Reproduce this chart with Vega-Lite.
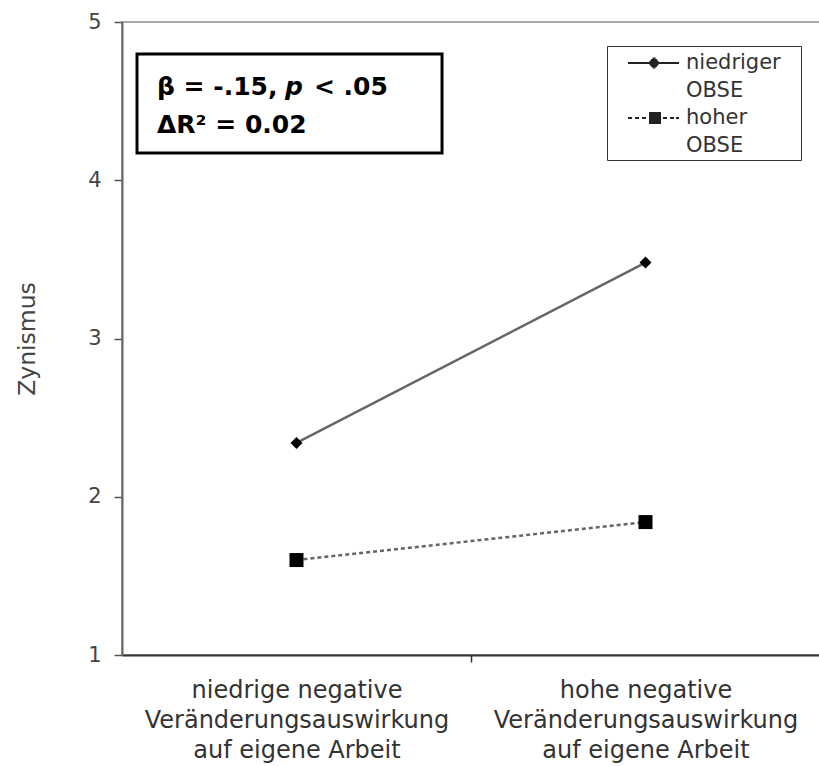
{
  "$schema": "https://vega.github.io/schema/vega-lite/v6.json",
  "width": 698,
  "height": 633,
  "autosize": "none",
  "padding": {"left": 122, "top": 22, "right": 0, "bottom": 111},
  "background": "white",
  "config": {
    "view": {"stroke": "#a8a8a8", "strokeWidth": 2},
    "font": "DejaVu Sans",
    "style": {"guide-label": {"lineHeight": 28}}
  },
  "datasets": {
    "linien": [
      {"x": 1, "y": 2.34, "gruppe": "niedriger OBSE"},
      {"x": 2, "y": 3.48, "gruppe": "niedriger OBSE"},
      {"x": 1, "y": 1.60, "gruppe": "hoher OBSE"},
      {"x": 2, "y": 1.84, "gruppe": "hoher OBSE"}
    ],
    "kasten": [
      {"x": 0.543, "x2": 1.417, "y": 4.798, "y2": 4.172}
    ],
    "texte": [
      {"x": 0.6003, "y": 4.589, "text": "β = -.15,", "stil": "normal"},
      {"x": 0.967, "y": 4.589, "text": "p", "stil": "kursiv"},
      {"x": 1.05, "y": 4.589, "text": "< .05", "stil": "normal"},
      {"x": 0.6003, "y": 4.349, "text": "ΔR² = 0.02", "stil": "normal"}
    ]
  },
  "layer": [
    {
      "data": {"name": "linien"},
      "transform": [{"filter": "datum.gruppe == 'niedriger OBSE'"}],
      "mark": {"type": "line", "color": "#666", "strokeWidth": 2.5},
      "encoding": {
        "x": {
          "field": "x", "type": "quantitative",
          "scale": {"domain": [0.5, 2.5], "nice": false, "zero": false},
          "axis": {
            "title": null,
            "values": [1, 1.5, 2],
            "labelExpr": "datum.value == 1 ? ['niedrige negative', 'Veränderungsauswirkung', 'auf eigene Arbeit'] : datum.value == 2 ? ['hohe negative', 'Veränderungsauswirkung', 'auf eigene Arbeit'] : ''",
            "grid": false,
            "tickSize": 7,
            "tickWidth": 1.5,
            "tickColor": {"condition": {"test": "datum.value == 1.5", "value": "#333"}, "value": "transparent"},
            "domainColor": "#333",
            "domainWidth": 2,
            "labelFont": "DejaVu Sans",
            "labelFontSize": 24,
            "labelColor": "#333",
            "labelLineHeight": 30,
            "labelBaseline": "top",
            "labelPadding": 16,
            "labelLimit": 500,
            "labelFlush": false,
            "labelOverlap": false
          }
        },
        "y": {
          "field": "y", "type": "quantitative",
          "scale": {"domain": [1, 5], "nice": false, "zero": false},
          "axis": {
            "title": "Zynismus",
            "values": [1, 2, 3, 4, 5],
            "format": "d",
            "grid": false,
            "tickSize": 8,
            "tickWidth": 1.5,
            "tickColor": "#555",
            "domainColor": "#666",
            "domainWidth": 2,
            "labelFont": "DejaVu Sans",
            "labelFontSize": 21,
            "labelColor": "#444",
            "labelPadding": 13,
            "labelLineHeight": 21,
            "titleFont": "DejaVu Sans",
            "titleFontSize": 23.5,
            "titleFontWeight": "normal",
            "titleColor": "#444",
            "titlePadding": 48
          }
        }
      }
    },
    {
      "data": {"name": "linien"},
      "transform": [{"filter": "datum.gruppe == 'hoher OBSE'"}],
      "mark": {"type": "line", "color": "#666", "strokeWidth": 2.5, "strokeDash": [4, 3]},
      "encoding": {
        "x": {"field": "x", "type": "quantitative"},
        "y": {"field": "y", "type": "quantitative"}
      }
    },
    {
      "data": {"name": "linien"},
      "mark": {"type": "point", "filled": false, "color": "#222", "strokeWidth": 2, "size": 0.0001, "opacity": 1},
      "encoding": {
        "x": {"field": "x", "type": "quantitative"},
        "y": {"field": "y", "type": "quantitative"},
        "shape": {
          "field": "gruppe", "type": "nominal",
          "scale": {
            "domain": ["niedriger OBSE", "hoher OBSE"],
            "range": [
              "M0.333,0H4.583M2,0H3M2.125,-0.125H2.875M2.125,0.125H2.875M2.25,-0.25H2.75M2.25,0.25H2.75M2.375,-0.375H2.625M2.375,0.375H2.625",
              "M0.333,0H0.667M0.917,0H1.25M1.5,0H1.833M3.25,0H3.583M3.833,0H4.167M4.333,0H4.583M2.083,-0.417H3.083M2.083,-0.25H3.083M2.083,-0.083H3.083M2.083,0.083H3.083M2.083,0.25H3.083M2.083,0.417H3.083"
            ]
          },
          "legend": {
            "title": null,
            "orient": "none",
            "legendX": 485,
            "legendY": 24,
            "padding": 4,
            "strokeColor": "#333",
            "fillColor": "white",
            "symbolSize": 576,
            "symbolStrokeWidth": 2,
            "labelFont": "DejaVu Sans",
            "labelFontSize": 21,
            "labelColor": "#333",
            "labelOffset": 49,
            "rowPadding": 4,
            "labelBaseline": "middle",
            "labelExpr": "[split(datum.label, ' ')[0] + '\u2800', split(datum.label, ' ')[1]]"
          }
        }
      }
    },
    {
      "data": {"name": "linien"},
      "transform": [{"filter": "datum.gruppe == 'niedriger OBSE'"}],
      "mark": {"type": "point", "shape": "diamond", "filled": true, "color": "black", "size": 144, "opacity": 1},
      "encoding": {
        "x": {"field": "x", "type": "quantitative"},
        "y": {"field": "y", "type": "quantitative"}
      }
    },
    {
      "data": {"name": "linien"},
      "transform": [{"filter": "datum.gruppe == 'hoher OBSE'"}],
      "mark": {"type": "point", "shape": "square", "filled": true, "color": "black", "size": 196, "opacity": 1},
      "encoding": {
        "x": {"field": "x", "type": "quantitative"},
        "y": {"field": "y", "type": "quantitative"}
      }
    },
    {
      "data": {"name": "kasten"},
      "mark": {"type": "rect", "fill": "white", "stroke": "black", "strokeWidth": 3},
      "encoding": {
        "x": {"field": "x", "type": "quantitative"},
        "x2": {"field": "x2"},
        "y": {"field": "y", "type": "quantitative"},
        "y2": {"field": "y2"}
      }
    },
    {
      "data": {"name": "texte"},
      "transform": [{"filter": "datum.stil == 'normal'"}],
      "mark": {"type": "text", "align": "left", "baseline": "middle", "font": "DejaVu Sans", "fontWeight": "bold", "fontSize": 25, "color": "black"},
      "encoding": {
        "x": {"field": "x", "type": "quantitative"},
        "y": {"field": "y", "type": "quantitative"},
        "text": {"field": "text"}
      }
    },
    {
      "data": {"name": "texte"},
      "transform": [{"filter": "datum.stil == 'kursiv'"}],
      "mark": {"type": "text", "align": "left", "baseline": "middle", "font": "DejaVu Sans", "fontWeight": "bold", "fontStyle": "italic", "fontSize": 25, "color": "black"},
      "encoding": {
        "x": {"field": "x", "type": "quantitative"},
        "y": {"field": "y", "type": "quantitative"},
        "text": {"field": "text"}
      }
    }
  ]
}
